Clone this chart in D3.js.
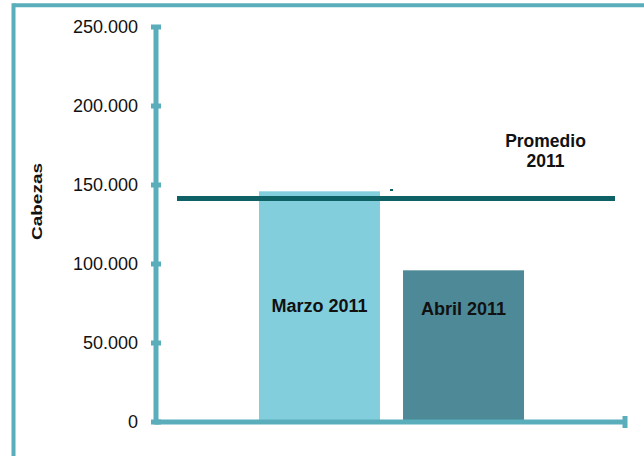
<!DOCTYPE html>
<html>
<head>
<meta charset="utf-8">
<script src="https://cdn.jsdelivr.net/npm/d3@7"></script>
<style>
  html, body { margin: 0; padding: 0; background: #fff; }
  svg { display: block; font-family: "Liberation Sans", Arial, sans-serif; }
</style>
</head>
<body>
<svg id="chart" width="644" height="456"></svg>
<script>
// ---- data ----
const categories = ["Marzo 2011", "Abril 2011"];
const values = [146000, 96000];
const barColors = ["#83CEDD", "#4E8997"];
const average = 141500;
const averageLabel = ["Promedio", "2011"];
const yTicks = [0, 50000, 100000, 150000, 200000, 250000];
const yTitle = "Cabezas";

// ---- layout ----
const svg = d3.select("#chart");
const axisColor = "#5AAEBB";
const plot = { left: 156, right: 627, top: 27, bottom: 422 };

// outer frame (top and left visible)
svg.append("line").attr("x1", 13.5).attr("x2", 650).attr("y1", 5.3).attr("y2", 5.3)
  .attr("stroke", axisColor).attr("stroke-width", 4);
svg.append("line").attr("x1", 13.5).attr("x2", 13.5).attr("y1", 3.3).attr("y2", 460)
  .attr("stroke", axisColor).attr("stroke-width", 4);

const y = d3.scaleLinear().domain([0, 250000]).range([plot.bottom, plot.top]);
const x = d3.scaleBand().domain(categories).range([plot.left, plot.right])
  .paddingInner(0.16).paddingOuter(0.715).align(0.5);

const fmt = v => d3.format(",")(v).replace(/,/g, ".");

// bars
svg.append("g").selectAll("rect").data(categories).join("rect")
  .attr("x", d => x(d))
  .attr("width", x.bandwidth())
  .attr("y", (d, i) => y(values[i]))
  .attr("height", (d, i) => y(0) - y(values[i]))
  .attr("fill", (d, i) => barColors[i]);

// bar labels
svg.append("g").selectAll("text").data(categories).join("text")
  .attr("x", d => x(d) + x.bandwidth() / 2)
  .attr("y", (d, i) => i === 0 ? 311.5 : 314.5)
  .attr("text-anchor", "middle")
  .attr("font-size", 18).attr("font-weight", "bold").attr("fill", "#111")
  .text(d => d);

// y axis
const yAxis = d3.axisLeft(y).tickValues(yTicks).tickFormat(fmt).tickSize(0).tickPadding(18);
const gy = svg.append("g").attr("transform", `translate(${plot.left},0)`).call(yAxis);
gy.select(".domain").remove();
gy.selectAll("text").attr("font-size", 18).attr("fill", "#111")
  .attr("font-family", "Liberation Sans, Arial, sans-serif");
svg.append("line").attr("x1", plot.left).attr("x2", plot.left)
  .attr("y1", y(250000)).attr("y2", y(0) + 2.5)
  .attr("stroke", axisColor).attr("stroke-width", 5);
svg.append("g").selectAll("rect").data(yTicks).join("rect")
  .attr("x", plot.left - 5).attr("width", 10)
  .attr("y", d => y(d) - 2.5).attr("height", 5)
  .attr("fill", axisColor);

// x axis
svg.append("line").attr("x1", plot.left).attr("x2", plot.right)
  .attr("y1", y(0)).attr("y2", y(0))
  .attr("stroke", axisColor).attr("stroke-width", 5);
svg.append("rect").attr("x", plot.right - 4.5).attr("width", 5)
  .attr("y", y(0) - 6).attr("height", 12).attr("fill", axisColor);

// y title
svg.append("text")
  .attr("transform", `translate(41.8,201.5) rotate(-90)`)
  .attr("text-anchor", "middle")
  .attr("font-size", 15).attr("font-weight", "bold").attr("fill", "#111")
  .attr("textLength", 77).attr("lengthAdjust", "spacingAndGlyphs")
  .text(yTitle);

// average line
svg.append("line").attr("x1", 177).attr("x2", 615)
  .attr("y1", y(average)).attr("y2", y(average))
  .attr("stroke", "#0E6265").attr("stroke-width", 5);
svg.append("rect").attr("x", 390).attr("y", 189).attr("width", 3).attr("height", 2).attr("fill", "#0E6265");

// average label
svg.append("g").selectAll("text").data(averageLabel).join("text")
  .attr("x", 545.5).attr("y", (d, i) => 147 + i * 20)
  .attr("text-anchor", "middle")
  .attr("font-size", 17.5).attr("font-weight", "bold").attr("fill", "#111")
  .text(d => d);
</script>
</body>
</html>
